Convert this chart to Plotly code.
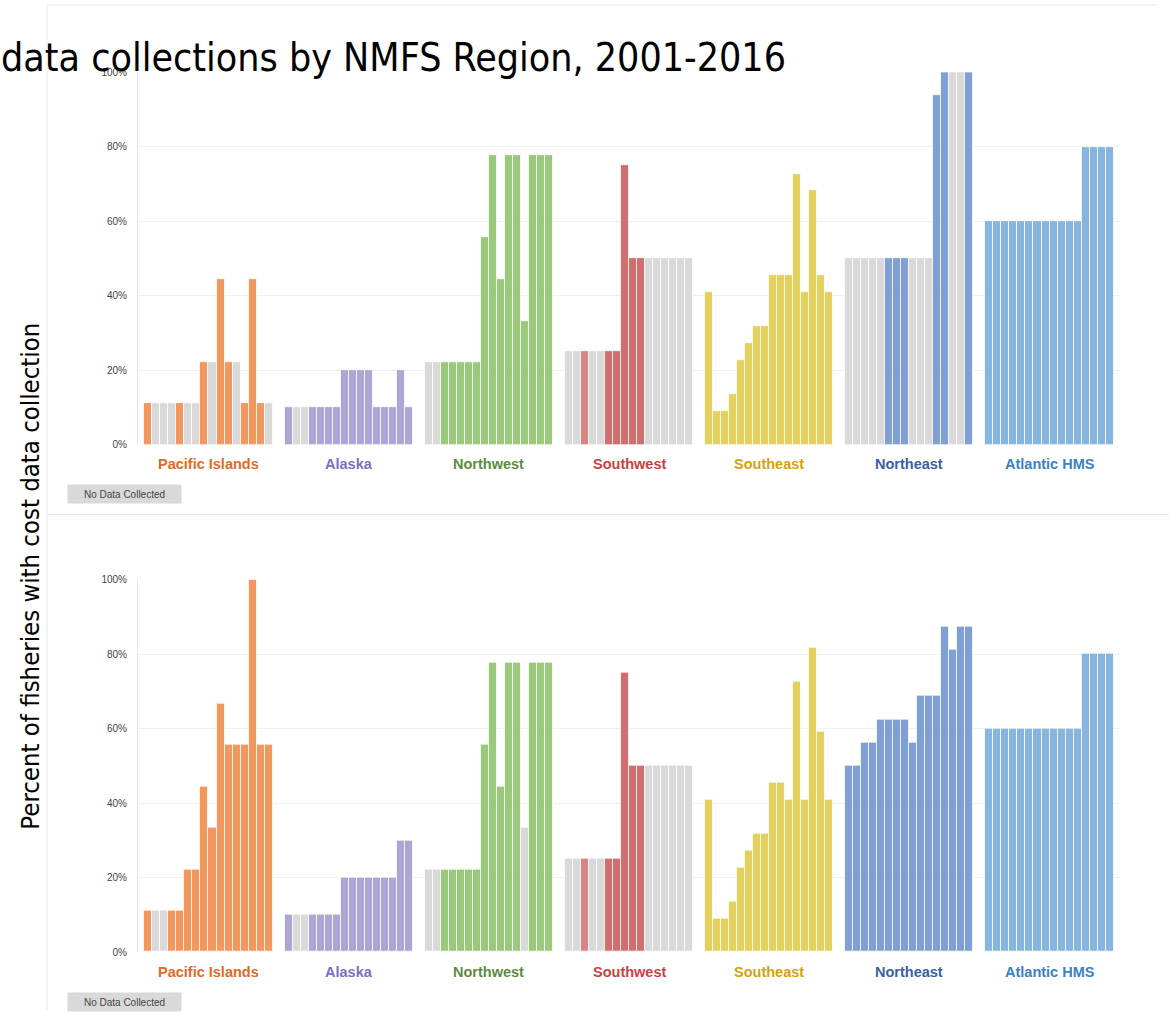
import plotly.graph_objects as go

W, H = 1169, 1016

regions = ["Pacific Islands", "Alaska", "Northwest", "Southwest", "Southeast", "Northeast", "Atlantic HMS"]
years = list(range(2001, 2017))

fill_colors = ["#f2975e", "#aba6d4", "#9bc97b", "#d16e6e", "#e4d05c", "#7f9fd6", "#86b5e0"]
light_colors = ["#f5b088", "#c3bfe0", "#b5d8a0", "#da8585", "#ecdd88", "#a0b8e2", "#a4c8e8"]
label_colors = ["#e06a26", "#7b70c4", "#5b8c3e", "#cc3f3f", "#d4a20c", "#3b5ea6", "#3a82c7"]
nodata_color = "#d9d9d9"

# values (%) per region, 2001-2016 — top panel
top_pacific = [11.1, 11.1, 11.1, 11.1, 11.1, 11.1, 11.1, 22.2, 22.2, 44.4, 22.2, 22.2, 11.1, 44.4, 11.1, 11.1]
top_alaska = [10, 10, 10, 10, 10, 10, 10, 20, 20, 20, 20, 10, 10, 10, 20, 10]
top_northwest = [22.2, 22.2, 22.2, 22.2, 22.2, 22.2, 22.2, 55.6, 77.8, 44.4, 77.8, 77.8, 33.3, 77.8, 77.8, 77.8]
top_southwest = [25, 25, 25, 25, 25, 25, 25, 75, 50, 50, 50, 50, 50, 50, 50, 50]
top_southeast = [40.9, 9.1, 9.1, 13.6, 22.7, 27.3, 31.8, 31.8, 45.5, 45.5, 45.5, 72.7, 40.9, 68.2, 45.5, 40.9]
top_northeast = [50, 50, 50, 50, 50, 50, 50, 50, 50, 50, 50, 93.75, 100, 100, 100, 100]
top_hms = [60, 60, 60, 60, 60, 60, 60, 60, 60, 60, 60, 60, 80, 80, 80, 80]

# status: C = collected, N = no data collected, L = collected (lighter shade)
top_pacific_s = "CNNNCNNCNCCNCCCN"
top_alaska_s = "CNNCCCCCCCCCCCCC"
top_northwest_s = "NNCCCCCCCCCCCCCC"
top_southwest_s = "NNLNNCCCCCNNNNNN"
top_southeast_s = "CCCCCCCCCCCCCCCC"
top_northeast_s = "NNNNNCCCNNNCCNNC"
top_hms_s = "CCCCCCCCCCCCCCCC"

# bottom panel
bot_pacific = [11.1, 11.1, 11.1, 11.1, 11.1, 22.2, 22.2, 44.4, 33.3, 66.7, 55.6, 55.6, 55.6, 100, 55.6, 55.6]
bot_alaska = [10, 10, 10, 10, 10, 10, 10, 20, 20, 20, 20, 20, 20, 20, 30, 30]
bot_northwest = [22.2, 22.2, 22.2, 22.2, 22.2, 22.2, 22.2, 55.6, 77.8, 44.4, 77.8, 77.8, 33.3, 77.8, 77.8, 77.8]
bot_southwest = [25, 25, 25, 25, 25, 25, 25, 75, 50, 50, 50, 50, 50, 50, 50, 50]
bot_southeast = [40.9, 9.1, 9.1, 13.6, 22.7, 27.3, 31.8, 31.8, 45.5, 45.5, 40.9, 72.7, 40.9, 81.8, 59.1, 40.9]
bot_northeast = [50, 50, 56.25, 56.25, 62.5, 62.5, 62.5, 62.5, 56.25, 68.75, 68.75, 68.75, 87.5, 81.25, 87.5, 87.5]
bot_hms = [60, 60, 60, 60, 60, 60, 60, 60, 60, 60, 60, 60, 80, 80, 80, 80]

bot_pacific_s = "CNNCCCCCCCCCCCCC"
bot_alaska_s = "CNNCCCCCCCCCCCCC"
bot_northwest_s = "NNCCCCCCCCCCNCCC"
bot_southwest_s = "NNLNNCCCCCNNNNNN"
bot_southeast_s = "CCCCCCCCCCCCCCCC"
bot_northeast_s = "CCCCCCCCCCCCCCCC"
bot_hms_s = "CCCCCCCCCCCCCCCC"

y_ticks = [0, 20, 40, 60, 80, 100]
y_ticktext = ["0%", "20%", "40%", "60%", "80%", "100%"]

top_vals = [top_pacific, top_alaska, top_northwest, top_southwest, top_southeast, top_northeast, top_hms]
top_stat = [top_pacific_s, top_alaska_s, top_northwest_s, top_southwest_s, top_southeast_s, top_northeast_s, top_hms_s]
bot_vals = [bot_pacific, bot_alaska, bot_northwest, bot_southwest, bot_southeast, bot_northeast, bot_hms]
bot_stat = [bot_pacific_s, bot_alaska_s, bot_northwest_s, bot_southwest_s, bot_southeast_s, bot_northeast_s, bot_hms_s]

GROUP_STEP = 17.5  # bar units between group starts (16 bars + gap)

# the captured page is slightly compressed vertically; compensate so positions land where intended
V_SCALE, V_OFF = 0.9853, 6.0

def px_x(p):
    return p / W

def px_y(p):
    return 1 - ((p - V_OFF) / V_SCALE) / H

fig = go.Figure()

for panel, (vals_all, stat_all) in enumerate([(top_vals, top_stat), (bot_vals, bot_stat)]):
    xa = "x" if panel == 0 else "x2"
    ya = "y" if panel == 0 else "y2"
    for g, region in enumerate(regions):
        xs = [g * GROUP_STEP + i for i in range(len(years))]
        cols = []
        for s in stat_all[g]:
            if s == "C":
                cols.append(fill_colors[g])
            elif s == "L":
                cols.append(light_colors[g])
            else:
                cols.append(nodata_color)
        fig.add_trace(go.Bar(
            x=xs, y=vals_all[g], width=1.0,
            marker=dict(color=cols, line=dict(color="rgba(255,255,255,0.75)", width=1)),
            customdata=years, name=region,
            hovertemplate=region + " %{customdata}: %{y:.1f}%<extra></extra>",
            showlegend=False, xaxis=xa, yaxis=ya,
        ))

x_range = [-1.3, 121.3]
x_dom = [px_x(138), px_x(1120)]
top_dom = [px_y(443.5), px_y(72)]
bot_dom = [px_y(949.3), px_y(578)]

axis_common_y = dict(
    range=[0, 100], tickmode="array", tickvals=y_ticks, ticktext=y_ticktext,
    showgrid=True, gridcolor="#f0f0f0", gridwidth=1,
    showline=True, linecolor="#e6e6e6", linewidth=1,
    zeroline=False, ticks="", ticklabelstandoff=8,
    tickfont=dict(family="Liberation Sans, Arial, sans-serif", size=10, color="#444"),
)
axis_common_x = dict(range=x_range, domain=x_dom, showticklabels=False, showgrid=False,
                     zeroline=False, showline=False, ticks="")

fig.update_layout(
    width=W, height=H, autosize=False, margin=dict(l=0, r=0, t=0, b=0),
    paper_bgcolor="white", plot_bgcolor="white",
    bargap=0,
    xaxis=dict(**axis_common_x, anchor="y"),
    yaxis=dict(**axis_common_y, domain=top_dom, anchor="x"),
    xaxis2=dict(**axis_common_x, anchor="y2"),
    yaxis2=dict(**axis_common_y, domain=bot_dom, anchor="x2"),
)

annotations = []
for panel, label_y in enumerate([463, 969]):
    xr = "x" if panel == 0 else "x2"
    for g, region in enumerate(regions):
        annotations.append(dict(
            x=g * GROUP_STEP + 7.5, y=px_y(label_y), xref=xr, yref="paper",
            text="<b>" + region + "</b>", showarrow=False, xanchor="center", yanchor="middle",
            font=dict(family="Liberation Sans, Arial, sans-serif", size=14.5, color=label_colors[g]),
        ))

for box_y in [493, 999]:
    annotations.append(dict(
        x=px_x(67), y=px_y(box_y), xref="paper", yref="paper",
        text="No Data Collected", showarrow=False, xanchor="left", yanchor="middle",
        bgcolor=nodata_color, width=109, height=14, borderpad=2, align="center",
        font=dict(family="Liberation Sans, Arial, sans-serif", size=10, color="#444"),
    ))

annotations.append(dict(
    x=px_x(-1), y=px_y(57), xref="paper", yref="paper",
    text="data collections by NMFS Region, 2001-2016", showarrow=False,
    xanchor="left", yanchor="middle",
    font=dict(family="DejaVu Sans Condensed, sans-serif", size=39, color="#000"),
))
annotations.append(dict(
    x=px_x(30), y=px_y(575), xref="paper", yref="paper",
    text="Percent of fisheries with cost data collection", showarrow=False, textangle=-90,
    xanchor="center", yanchor="middle",
    font=dict(family="DejaVu Sans Condensed, sans-serif", size=25.5, color="#000"),
))
fig.update_layout(annotations=annotations)

line_col = "#e8e8e8"
fig.update_layout(shapes=[
    dict(type="line", xref="paper", yref="paper", x0=px_x(47), x1=px_x(1158), y0=px_y(5), y1=px_y(5),
         line=dict(color=line_col, width=1)),
    dict(type="line", xref="paper", yref="paper", x0=px_x(47), x1=px_x(47), y0=px_y(5), y1=0,
         line=dict(color=line_col, width=1)),
    dict(type="line", xref="paper", yref="paper", x0=px_x(47), x1=1, y0=px_y(513), y1=px_y(513),
         line=dict(color=line_col, width=1)),
])

fig.write_html(
    "out.html",
    config={"responsive": False, "displayModeBar": False},
    post_script="document.body.style.margin='0';document.body.style.overflow='hidden';",
)
